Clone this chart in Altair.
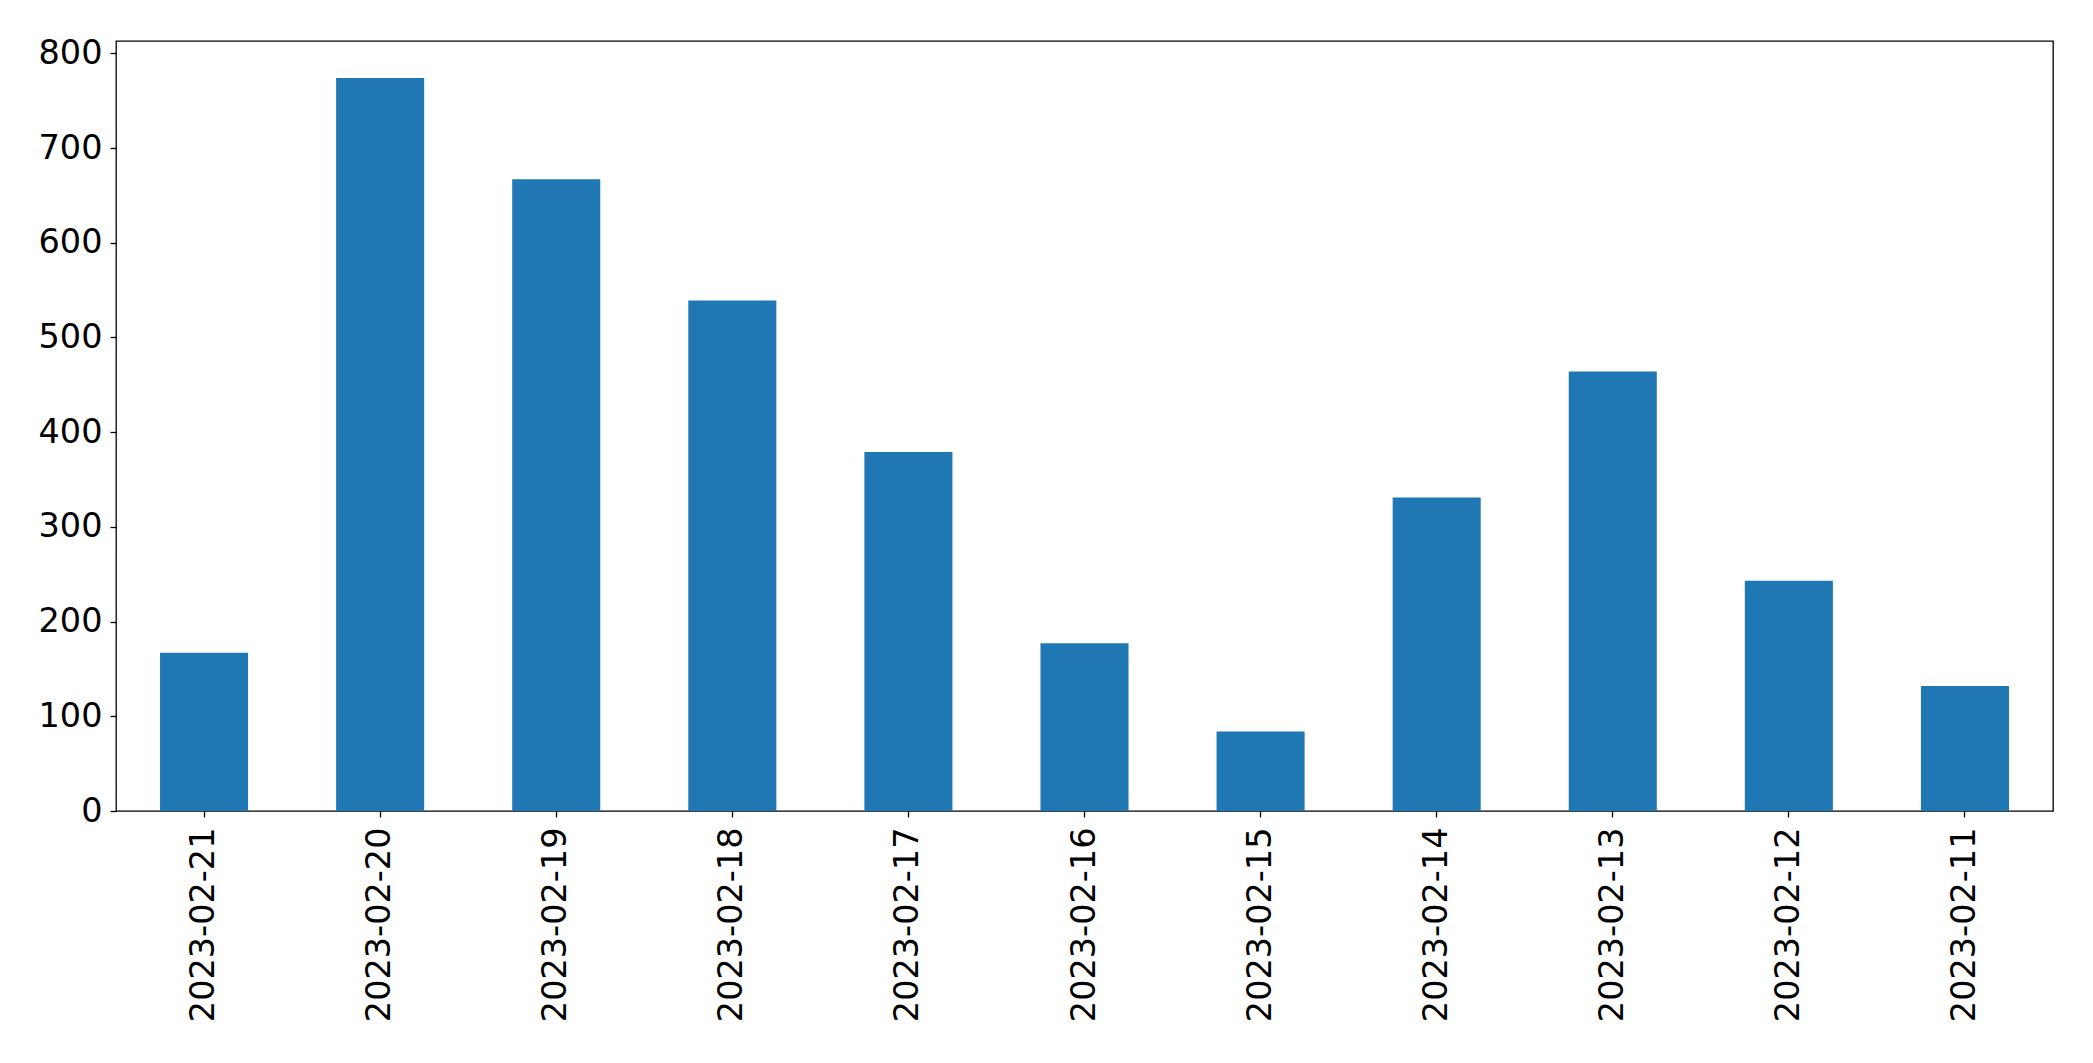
import altair as alt
import pandas as pd

dates = ["2023-02-21", "2023-02-20", "2023-02-19", "2023-02-18", "2023-02-17",
         "2023-02-16", "2023-02-15", "2023-02-14", "2023-02-13", "2023-02-12",
         "2023-02-11"]
counts = [167, 774, 667, 539, 379, 177, 84, 331, 464, 243, 132]
y_ticks = [0, 100, 200, 300, 400, 500, 600, 700, 800]

df = pd.DataFrame({"date": dates, "count": counts})

chart = alt.Chart(df).mark_bar(color="#1f77b4").encode(
    x=alt.X("date:N", sort=dates, title=None,
            scale=alt.Scale(paddingInner=0.5, paddingOuter=0.25),
            axis=alt.Axis(labelAngle=-90, labelFontSize=33.5, labelFont="DejaVu Sans",
                          labelColor="black", tickColor="black", tickSize=6,
                          tickWidth=1.3, labelPadding=10, domain=False, grid=False,
                          labelLimit=0)),
    y=alt.Y("count:Q", title=None,
            scale=alt.Scale(domain=[0, 813], nice=False, zero=True),
            axis=alt.Axis(values=y_ticks, labelFontSize=33.5, labelFont="DejaVu Sans",
                          labelColor="black", tickColor="black", tickSize=6,
                          tickWidth=1.3, labelPadding=8, domain=False, grid=False,
                          labelLimit=0)),
).properties(
    width=1937, height=770,
    autosize=alt.AutoSizeParams(type="none"),
    padding={"left": 108, "top": 33, "right": 32, "bottom": 244},
    background="white",
).configure_view(
    stroke="black", strokeWidth=1.3
)

chart.save("out.html", embed_options={"renderer": "svg", "actions": False})
